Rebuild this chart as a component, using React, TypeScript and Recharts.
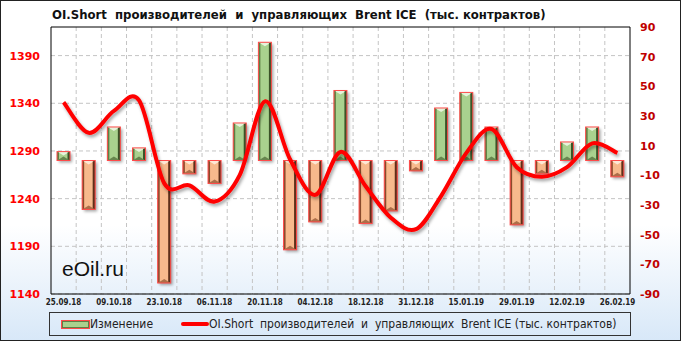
import React from 'react';
import {
  ComposedChart,
  Bar,
  Line,
  XAxis,
  YAxis,
  CartesianGrid,
  ReferenceLine,
} from 'recharts';

// weekly report dates
const dates = [
  '25.09.18', '02.10.18', '09.10.18', '16.10.18', '23.10.18', '30.10.18',
  '06.11.18', '13.11.18', '20.11.18', '27.11.18', '04.12.18', '11.12.18',
  '18.12.18', '24.12.18', '31.12.18', '08.01.19', '15.01.19', '22.01.19',
  '29.01.19', '05.02.19', '12.02.19', '19.02.19', '26.02.19',
];

// weekly change, right axis
const changeValues = [
  6, -33, 22.6, 8.5, -82.6, -9, -15.5, 25.3, 79.7, -60.2, -41.4, 47.2,
  -42.5, -34, -7, 35.4, 45.9, 22.6, -43.4, -9, 12.5, 22.6, -11,
];

// OI short, left axis
const oiShortValues = [
  1341, 1309, 1332, 1343, 1256, 1254, 1237, 1265, 1342, 1281, 1244, 1289,
  1253, 1220, 1208, 1243, 1288, 1313, 1273, 1263, 1273, 1298, 1288,
];

const leftTicks = [1140, 1190, 1240, 1290, 1340, 1390];
const rightTicks = [-90, -70, -50, -30, -10, 10, 30, 50, 70, 90];

const TITLE = 'OI.Short  производителей  и  управляющих  Brent ICE  (тыс. контрактов)';
const LINE_NAME = 'OI.Short  производителей  и  управляющих  Brent ICE (тыс. контрактов)';
const BAR_NAME = 'Изменение';

const chartData = dates.map((date, i) => ({
  date,
  change: changeValues[i],
  oiShort: oiShortValues[i],
}));

const GREEN = { face: '#a9d18e', light: '#e6f3dc', left: '#5f7f45', right: '#3b5228', bottom: '#56733e' };
const ORANGE = { face: '#f7b98c', light: '#fde8d6', left: '#8a4a2c', right: '#5e2f1a', bottom: '#9a5b38' };

// catmull-rom style smoothing like the original chart
const cardinalCurve = (context: any) => {
  let pts: number[][] = [];
  return {
    areaStart() {},
    areaEnd() {},
    lineStart() {
      pts = [];
    },
    point(x: number, y: number) {
      pts.push([+x, +y]);
    },
    lineEnd() {
      if (!pts.length) return;
      context.moveTo(pts[0][0], pts[0][1]);
      for (let i = 0; i < pts.length - 1; i++) {
        const p0 = pts[i - 1] || pts[i];
        const p1 = pts[i];
        const p2 = pts[i + 1];
        const p3 = pts[i + 2] || p2;
        context.bezierCurveTo(
          p1[0] + (p2[0] - p0[0]) / 6,
          p1[1] + (p2[1] - p0[1]) / 6,
          p2[0] - (p3[0] - p1[0]) / 6,
          p2[1] - (p3[1] - p1[1]) / 6,
          p2[0],
          p2[1]
        );
      }
    },
  };
};

const BevelBar = (props: any) => {
  const { x, y, width, height, value } = props;
  if (width == null || height == null) return null;
  const top = height < 0 ? y + height : y;
  const h = Math.abs(height);
  const w = width;
  const c = value >= 0 ? GREEN : ORANGE;
  const b = Math.min(4, h / 2, w / 2);
  return (
    <g>
      <rect x={x + 2} y={top + 2} width={w} height={h} fill="#000" opacity={0.35} filter="url(#barBlur)" />
      <rect x={x} y={top} width={w} height={h} fill={c.face} />
      <polygon points={`${x},${top} ${x + w},${top} ${x + w / 2},${top + b}`} fill={c.light} />
      <polygon points={`${x},${top} ${x + 2},${top + 1} ${x + 2},${top + h - 1} ${x},${top + h}`} fill={c.left} />
      <polygon points={`${x + w},${top} ${x + w},${top + h} ${x + w - 2.5},${top + h - 1} ${x + w - 2.5},${top + 1}`} fill={c.right} />
      <polygon points={`${x},${top + h} ${x + w},${top + h} ${x + w / 2},${top + h - b}`} fill={c.bottom} opacity={0.8} />
      <rect x={x} y={top} width={w} height={h} fill="none" stroke="#ff4a4a" strokeWidth={1} />
    </g>
  );
};

const App = () => {
  return (
    <div
      style={{
        position: 'relative',
        width: 681,
        height: 341,
        boxSizing: 'border-box',
        border: '1px solid #222',
        background: 'linear-gradient(to bottom, #ffffff 0%, #ffffff 66%, #d8e8f8 100%)',
        overflow: 'hidden',
      }}
    >
      <style>{'body{margin:0}'}</style>
      <div
        style={{
          position: 'absolute',
          left: 51,
          top: 6,
          fontFamily: '"DejaVu Sans Condensed", "DejaVu Sans", sans-serif',
          fontWeight: 'bold',
          fontSize: 13,
          color: '#111',
          whiteSpace: 'pre',
        }}
      >
        {TITLE}
      </div>
      <ComposedChart
        width={679}
        height={339}
        data={chartData}
        margin={{ top: 26, right: 0, bottom: 30, left: 0 }}
        barCategoryGap={6}
        style={{ position: 'absolute', left: 0, top: 0 }}
      >
        <defs>
          <filter id="barBlur" x="-50%" y="-50%" width="200%" height="200%">
            <feGaussianBlur stdDeviation="1.6" />
          </filter>
          <filter id="lineShadow" x="-10%" y="-10%" width="120%" height="130%">
            <feDropShadow dx="1.5" dy="2.5" stdDeviation="1.5" floodColor="#000" floodOpacity="0.35" />
          </filter>
        </defs>
        <CartesianGrid
          yAxisId="left"
          stroke="#c4c4c4"
          strokeDasharray="4 3"
          horizontalValues={leftTicks}
          verticalCoordinatesGenerator={({ offset }: any) =>
            dates.slice(1).map((_, i) => offset.left + ((i + 1) * offset.width) / dates.length)
          }
        />
        <XAxis
          dataKey="date"
          interval={1}
          height={16}
          tickSize={0}
          tickMargin={5}
          axisLine={{ stroke: '#000' }}
          tick={{ fill: '#222', fontSize: 8, fontWeight: 'bold', fontFamily: '"DejaVu Sans Condensed", sans-serif' }}
        />
        <YAxis
          yAxisId="left"
          orientation="left"
          width={50}
          domain={[1140, 1420]}
          ticks={leftTicks}
          tickSize={0}
          tickMargin={11}
          axisLine={{ stroke: '#000' }}
          tick={{ fill: '#ff0000', fontSize: 11, fontWeight: 'bold', fontFamily: '"DejaVu Sans", sans-serif' }}
        />
        <YAxis
          yAxisId="right"
          orientation="right"
          width={50}
          domain={[-90, 90]}
          ticks={rightTicks}
          tickSize={0}
          tickMargin={10}
          axisLine={{ stroke: '#000' }}
          tick={{ fill: '#c00000', fontSize: 11, fontWeight: 'bold', fontFamily: '"DejaVu Sans", sans-serif' }}
        />
        <ReferenceLine yAxisId="left" y={1420} stroke="#000" />
        <Bar
          yAxisId="right"
          dataKey="change"
          name={BAR_NAME}
          barSize={13}
          shape={BevelBar}
          isAnimationActive={false}
        />
        <Line
          yAxisId="left"
          dataKey="oiShort"
          name={LINE_NAME}
          type={cardinalCurve as any}
          stroke="#ff0000"
          strokeWidth={4}
          dot={false}
          activeDot={false}
          filter="url(#lineShadow)"
          isAnimationActive={false}
        />
      </ComposedChart>
      <div
        style={{
          position: 'absolute',
          left: 61,
          top: 256,
          fontFamily: '"Liberation Sans", Arial, sans-serif',
          fontSize: 21,
          color: '#111',
        }}
      >
        eOil.ru
      </div>
      <div
        style={{
          position: 'absolute',
          left: 48,
          top: 311,
          width: 582,
          height: 24,
          boxSizing: 'border-box',
          border: '1px solid #333',
          display: 'flex',
          alignItems: 'center',
          fontFamily: '"DejaVu Sans Condensed", "DejaVu Sans", sans-serif',
          fontSize: 12,
          color: '#222',
          whiteSpace: 'pre',
        }}
      >
        <span
          style={{
            display: 'inline-block',
            marginLeft: 11,
            width: 27,
            height: 7,
            background: GREEN.face,
            border: '1px solid #ff4a4a',
            boxShadow: 'inset 0 0 0 1px #5f7f45',
          }}
        />
        <span>{BAR_NAME}</span>
        <span
          style={{
            display: 'inline-block',
            marginLeft: 28,
            width: 28,
            height: 4,
            borderRadius: 2,
            background: '#ff0000',
          }}
        />
        <span>{LINE_NAME}</span>
      </div>
    </div>
  );
};

export default App;
